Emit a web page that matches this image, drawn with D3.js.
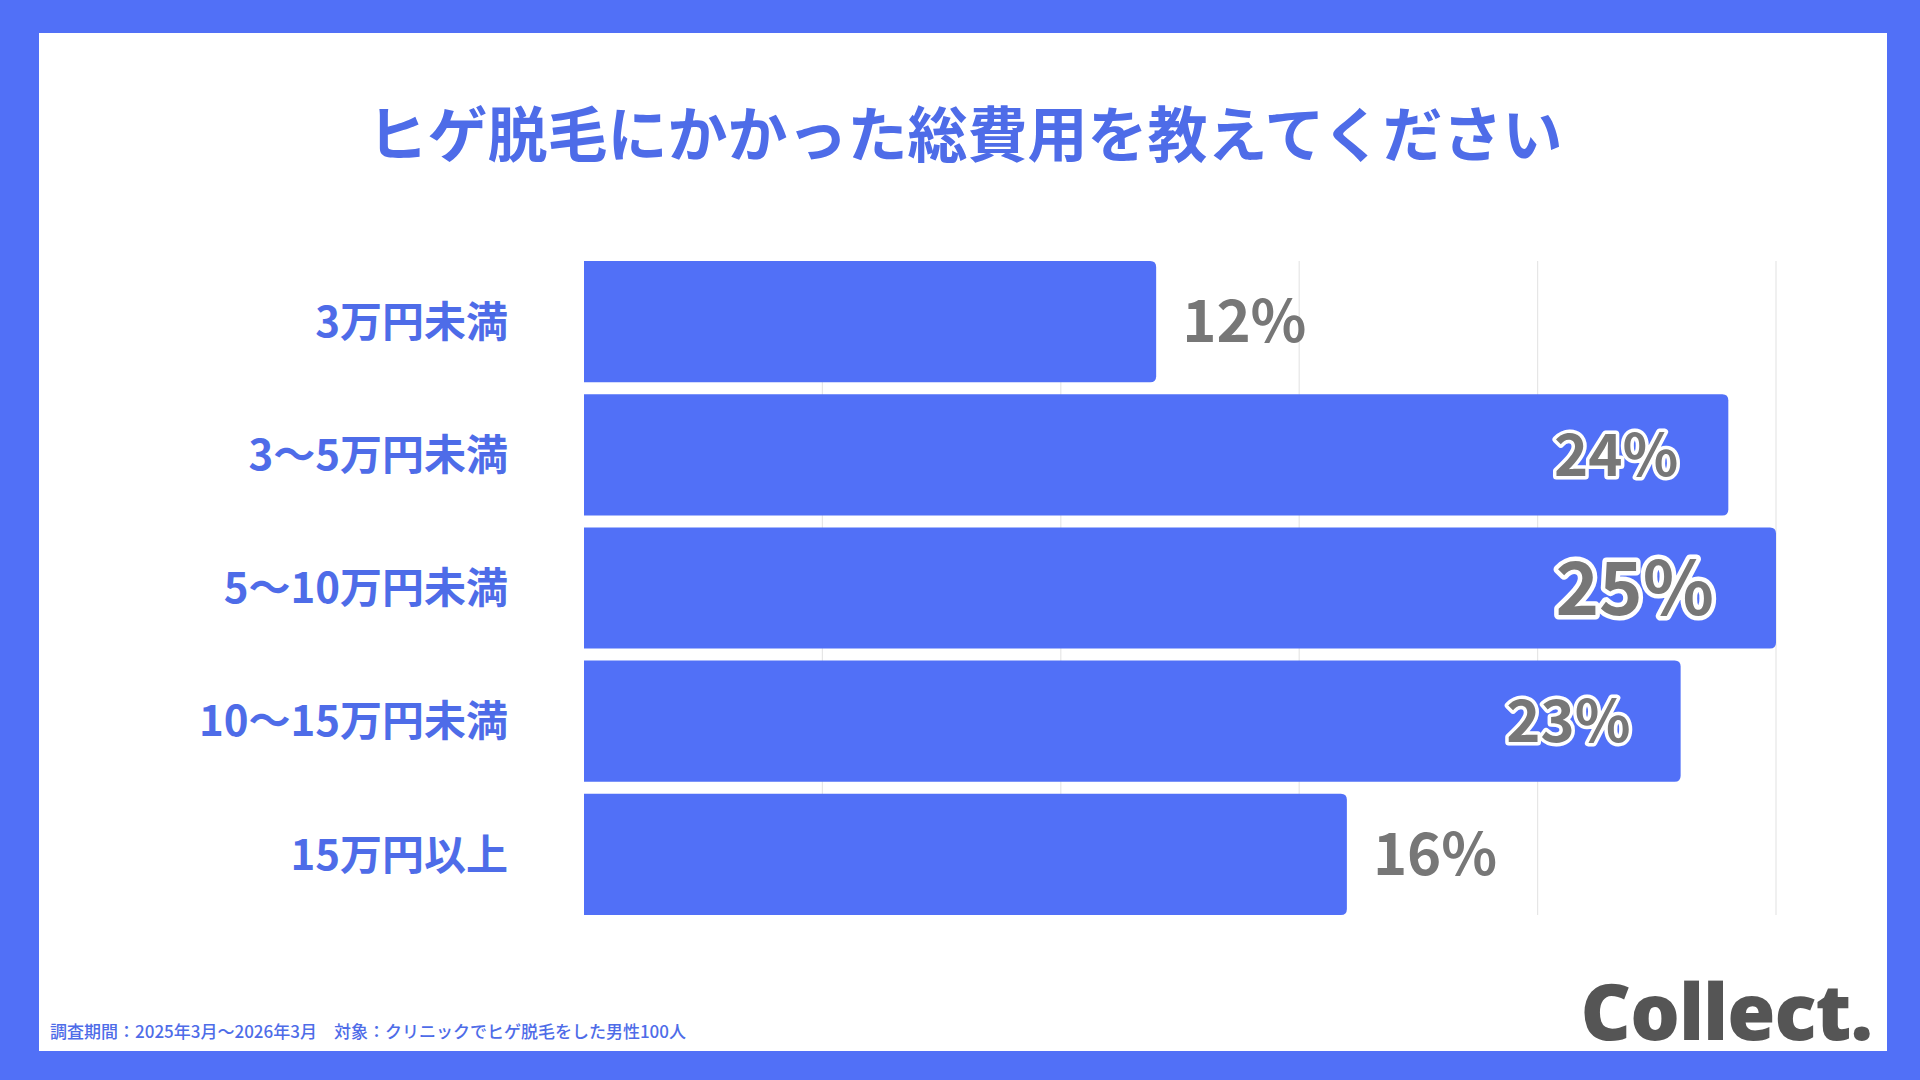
<!DOCTYPE html>
<html><head><meta charset="utf-8">
<script src="https://cdn.jsdelivr.net/npm/d3@7"></script>
<style>body{margin:0;background:#5170f7;}svg{display:block}</style>
</head><body><svg id="c" width="1920" height="1080"></svg>
<script>
const categories = ["3万円未満","3〜5万円未満","5〜10万円未満","10〜15万円未満","15万円以上"];
const values = [12,24,25,23,16];
const ticks = [0,5,10,15,20,25];
const title = "ヒゲ脱毛にかかった総費用を教えてください";
const footnote = "調査期間：2025年3月〜2026年3月　対象：クリニックでヒゲ脱毛をした男性100人";

const blue = "#5170f7", textBlue = "#4e6ce8", gray = "#777777";
const svg = d3.select("#c");
const font = "'Noto Sans CJK JP','Noto Sans',sans-serif";
svg.append("rect").attr("width",1920).attr("height",1080).attr("fill",blue);
svg.append("rect").attr("x",39).attr("y",33).attr("width",1848).attr("height",1018).attr("fill","#fff");

svg.append("text").attr("x",965).attr("y",157).attr("text-anchor","middle")
  .attr("font-family",font).attr("font-weight",700).attr("font-size",60).attr("fill",textBlue).text(title);

const x = d3.scaleLinear().domain([0,25]).range([584,1776]);
const y = d3.scaleBand().domain(categories).range([261,915]).paddingInner(0.09).paddingOuter(0.0);

svg.append("g").selectAll("line").data(ticks.slice(1)).join("line")
  .attr("x1",d=>x(d)).attr("x2",d=>x(d)).attr("y1",261).attr("y2",915)
  .attr("stroke","#e6e6e6").attr("stroke-width",1.2);

const r = 6;
svg.append("g").selectAll("path").data(categories).join("path")
  .attr("fill",blue)
  .attr("d",(c,i)=>{const x0=x(0),x1=x(values[i]),y0=y(c),h=y.bandwidth();
    return `M${x0},${y0}H${x1-r}Q${x1},${y0} ${x1},${y0+r}V${y0+h-r}Q${x1},${y0+h} ${x1-r},${y0+h}H${x0}Z`;});

svg.append("g").selectAll("text").data(categories).join("text")
  .attr("x",508).attr("y",c=>y(c)+y.bandwidth()/2).attr("dy","0.36em")
  .attr("text-anchor","end").attr("font-family",font).attr("font-weight",700)
  .attr("font-size",42).attr("fill",textBlue).text(c=>c);

const maxV = d3.max(values);
categories.forEach((c,i)=>{
  const v=values[i], inside = v>=20, big = v===maxV;
  const t = svg.append("text").attr("y",y(c)+y.bandwidth()/2).attr("dy","0.36em")
    .attr("font-family",font).attr("font-weight",700).attr("font-size",big?74:58)
    .attr("fill",gray).text(v+"%");
  if(inside){
    t.attr("x",x(v)-(big?62:50)).attr("text-anchor","end")
     .attr("stroke","#fff").attr("stroke-width",big?9:7).attr("paint-order","stroke").attr("stroke-linejoin","round");
  } else {
    t.attr("x",x(v)+26).attr("text-anchor","start");
  }
});

svg.append("text").attr("x",50).attr("y",1038).attr("font-family",font).attr("font-weight",500)
  .attr("font-size",17).attr("fill",textBlue).text(footnote);
svg.append("text").attr("x",1872).attr("y",1040).attr("text-anchor","end").attr("font-family","'Open Sans','Noto Sans',sans-serif")
  .attr("font-weight",800).attr("font-size",78).attr("fill","#555").attr("letter-spacing",-1).text("Collect.");
</script></body></html>
